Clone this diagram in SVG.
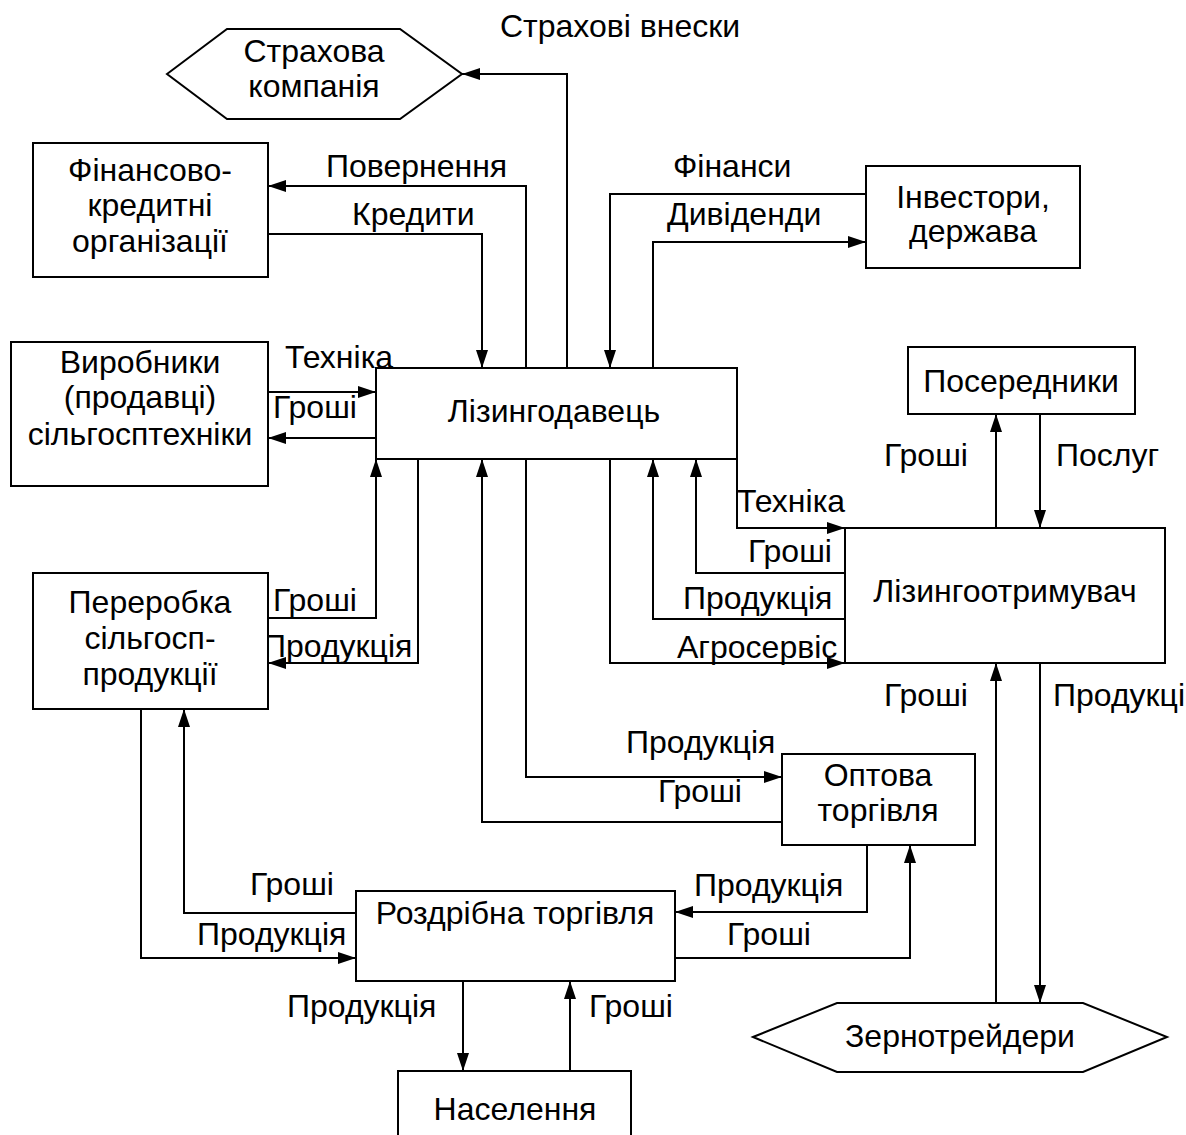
<svg xmlns="http://www.w3.org/2000/svg" width="1186" height="1135" viewBox="0 0 1186 1135">
<style>
.box{fill:#fff;stroke:#000;stroke-width:2}
.t{font-family:"Liberation Sans",Arial,sans-serif;font-size:32px;fill:#000}
.c{text-anchor:middle}
.ln{fill:none;stroke:#000;stroke-width:2}
</style>
<defs>
<marker id="ah" markerUnits="userSpaceOnUse" markerWidth="18" markerHeight="12" refX="18" refY="6" orient="auto">
<path d="M0,0 L18,6 L0,12 z" fill="#000"/>
</marker>
</defs>
<rect width="1186" height="1135" fill="#fff"/>

<g id="connectors">
<path class="ln" marker-end="url(#ah)" d="M567,368 V74 H462"/>
<path class="ln" marker-end="url(#ah)" d="M526,368 V186 H268"/>
<path class="ln" marker-end="url(#ah)" d="M268,234 H482 V368"/>
<path class="ln" marker-end="url(#ah)" d="M866,194 H610 V368"/>
<path class="ln" marker-end="url(#ah)" d="M653,368 V242 H866"/>
<path class="ln" marker-end="url(#ah)" d="M268,392 H376"/>
<path class="ln" marker-end="url(#ah)" d="M376,438 H268"/>
<path class="ln" marker-end="url(#ah)" d="M268,618 H376 V459"/>
<path class="ln" marker-end="url(#ah)" d="M418,459 V663 H268"/>
<path class="ln" marker-end="url(#ah)" d="M737,459 V528 H845"/>
<path class="ln" marker-end="url(#ah)" d="M845,573 H696 V459"/>
<path class="ln" marker-end="url(#ah)" d="M845,619 H653 V459"/>
<path class="ln" marker-end="url(#ah)" d="M610,459 V663 H845"/>
<path class="ln" marker-end="url(#ah)" d="M996,528 V414"/>
<path class="ln" marker-end="url(#ah)" d="M1040,414 V528"/>
<path class="ln" marker-end="url(#ah)" d="M996,1003 V663"/>
<path class="ln" marker-end="url(#ah)" d="M1040,663 V1003"/>
<path class="ln" marker-end="url(#ah)" d="M526,459 V777 H782"/>
<path class="ln" marker-end="url(#ah)" d="M782,822 H482 V459"/>
<path class="ln" marker-end="url(#ah)" d="M867,845 V912 H675"/>
<path class="ln" marker-end="url(#ah)" d="M675,958 H910 V845"/>
<path class="ln" marker-end="url(#ah)" d="M356,913 H184 V709"/>
<path class="ln" marker-end="url(#ah)" d="M141,709 V958 H356"/>
<path class="ln" marker-end="url(#ah)" d="M463,981 V1071"/>
<path class="ln" marker-end="url(#ah)" d="M570,1071 V981"/>
</g>

<g id="labels" class="t">
<text x="500" y="37">Страхові внески</text>
<text x="326" y="177">Повернення</text>
<text x="352" y="225">Кредити</text>
<text x="673" y="177">Фінанси</text>
<text x="667" y="225">Дивіденди</text>
<text x="285" y="368">Техніка</text>
<text x="273" y="418">Гроші</text>
<text x="273" y="611">Гроші</text>
<text x="263" y="657">Продукція</text>
<text x="884" y="466">Гроші</text>
<text x="1056" y="466">Послуг</text>
<text x="737" y="512">Техніка</text>
<text x="748" y="562">Гроші</text>
<text x="683" y="609">Продукція</text>
<text x="677" y="658">Агросервіс</text>
<text x="884" y="706">Гроші</text>
<text x="1053" y="706">Продукці</text>
<text x="626" y="753">Продукція</text>
<text x="658" y="802">Гроші</text>
<text x="694" y="896">Продукція</text>
<text x="727" y="945">Гроші</text>
<text x="250" y="895">Гроші</text>
<text x="197" y="945">Продукція</text>
<text x="287" y="1017">Продукція</text>
<text x="589" y="1017">Гроші</text>
</g>

<g id="strakhova">
<polygon class="box" points="167,74 227,29 400,29 462,74 400,119 227,119"/>
<text class="t c" x="314" y="62">Страхова</text>
<text class="t c" x="314" y="97">компанія</text>
</g>
<g id="finkred">
<rect class="box" x="33" y="143" width="235" height="134"/>
<text class="t c" x="150" y="181">Фінансово-</text>
<text class="t c" x="150" y="216">кредитні</text>
<text class="t c" x="150" y="252">організації</text>
</g>
<g id="investory">
<rect class="box" x="866" y="166" width="214" height="102"/>
<text class="t c" x="973" y="208">Інвестори,</text>
<text class="t c" x="973" y="242">держава</text>
</g>
<g id="vyrobnyky">
<rect class="box" x="11" y="342" width="257" height="144"/>
<text class="t c" x="140" y="373">Виробники</text>
<text class="t c" x="140" y="408">(продавці)</text>
<text class="t c" x="140" y="445">сільгосптехніки</text>
</g>
<g id="lizyngodavets">
<rect class="box" x="376" y="368" width="361" height="91"/>
<text class="t c" x="554" y="422">Лізингодавець</text>
</g>
<g id="pererobka">
<rect class="box" x="33" y="573" width="235" height="136"/>
<text class="t c" x="150" y="613">Переробка</text>
<text class="t c" x="150" y="649">сільгосп-</text>
<text class="t c" x="150" y="685">продукції</text>
</g>
<g id="poserednyky">
<rect class="box" x="908" y="347" width="227" height="67"/>
<text class="t c" x="1021" y="392">Посередники</text>
</g>
<g id="lizyngootrymuvach">
<rect class="box" x="845" y="528" width="320" height="135"/>
<text class="t c" x="1005" y="602">Лізингоотримувач</text>
</g>
<g id="optova">
<rect class="box" x="782" y="754" width="193" height="91"/>
<text class="t c" x="878" y="786">Оптова</text>
<text class="t c" x="878" y="821">торгівля</text>
</g>
<g id="rozdribna">
<rect class="box" x="356" y="891" width="319" height="90"/>
<text class="t c" x="515" y="924">Роздрібна торгівля</text>
</g>
<g id="zernotreidery">
<polygon class="box" points="753,1037 837,1003 1083,1003 1167,1037 1083,1072 837,1072"/>
<text class="t c" x="960" y="1047">Зернотрейдери</text>
</g>
<g id="naselennia">
<rect class="box" x="398" y="1071" width="233" height="80"/>
<text class="t c" x="515" y="1120">Населення</text>
</g>
</svg>
